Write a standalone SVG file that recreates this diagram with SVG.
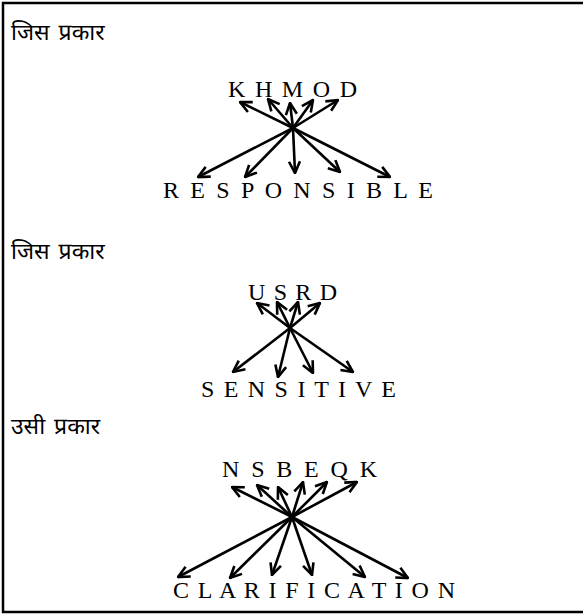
<svg xmlns="http://www.w3.org/2000/svg" width="583" height="615" viewBox="0 0 583 615">
<style>
.hd{font-family:"Noto Sans Devanagari","Noto Sans","Lohit Devanagari",sans-serif;font-size:23px;fill:#000;word-spacing:3px}
.lt{font-family:"Liberation Serif","Times New Roman",serif;font-size:24px;fill:#000}
.ar{stroke:#000;stroke-width:2.6;fill:none;marker-end:url(#ah)}
.bd{stroke:#000;stroke-width:2.5;fill:none}
</style>
<defs>
<marker id="ah" viewBox="0 0 14 14" refX="13" refY="7" markerWidth="14" markerHeight="14" markerUnits="userSpaceOnUse" orient="auto">
<path d="M1.5,1.5 L13,7 L1.5,12.5" fill="none" stroke="#000" stroke-width="2.6"/>
</marker>
</defs>
<rect width="583" height="615" fill="#fff"/>
<g id="border">
<path class="bd" d="M583,3 L3,3 L3,612 L583,612"/>
</g>
<g id="header1"><text class="hd" x="11" y="40">जिस प्रकार</text></g>
<g id="top1"><text class="lt" x="228" y="97" textLength="129" lengthAdjust="spacing">K H M O D</text></g>
<g id="bottom1"><text class="lt" x="163" y="198" textLength="270" lengthAdjust="spacing">R E S P O N S I B L E</text></g>
<g id="header2"><text class="hd" x="11" y="259">जिस प्रकार</text></g>
<g id="top2"><text class="lt" x="248" y="300" textLength="89" lengthAdjust="spacing">U S R D</text></g>
<g id="bottom2"><text class="lt" x="201" y="397" textLength="195" lengthAdjust="spacing">S E N S I T I V E</text></g>
<g id="header3"><text class="hd" x="11" y="434">उसी प्रकार</text></g>
<g id="top3"><text class="lt" x="222" y="477" textLength="155" lengthAdjust="spacing">N S B E Q K</text></g>
<g id="bottom3"><text class="lt" x="173" y="598" textLength="282" lengthAdjust="spacing">C L A R I F I C A T I O N</text></g>
<g id="connectors">
<line class="ar" x1="293" y1="128" x2="240" y2="102"/>
<line class="ar" x1="293" y1="128" x2="268" y2="99"/>
<line class="ar" x1="293" y1="128" x2="290" y2="103"/>
<line class="ar" x1="293" y1="128" x2="313" y2="100"/>
<line class="ar" x1="293" y1="128" x2="338" y2="100"/>
<line class="ar" x1="293" y1="128" x2="198" y2="177"/>
<line class="ar" x1="293" y1="128" x2="245" y2="177"/>
<line class="ar" x1="293" y1="128" x2="295" y2="173"/>
<line class="ar" x1="293" y1="128" x2="340" y2="172"/>
<line class="ar" x1="293" y1="128" x2="390" y2="177"/>
<line class="ar" x1="290" y1="328" x2="257" y2="303"/>
<line class="ar" x1="290" y1="328" x2="277" y2="302"/>
<line class="ar" x1="290" y1="328" x2="298" y2="302"/>
<line class="ar" x1="290" y1="328" x2="320" y2="303"/>
<line class="ar" x1="290" y1="328" x2="233" y2="372"/>
<line class="ar" x1="290" y1="328" x2="278" y2="377"/>
<line class="ar" x1="290" y1="328" x2="313" y2="373"/>
<line class="ar" x1="290" y1="328" x2="353" y2="372"/>
<line class="ar" x1="292" y1="517" x2="232" y2="487"/>
<line class="ar" x1="292" y1="517" x2="257" y2="485"/>
<line class="ar" x1="292" y1="517" x2="278" y2="487"/>
<line class="ar" x1="292" y1="517" x2="303" y2="482"/>
<line class="ar" x1="292" y1="517" x2="327" y2="482"/>
<line class="ar" x1="292" y1="517" x2="357" y2="482"/>
<line class="ar" x1="292" y1="517" x2="178" y2="577"/>
<line class="ar" x1="292" y1="517" x2="230" y2="578"/>
<line class="ar" x1="292" y1="517" x2="272" y2="575"/>
<line class="ar" x1="292" y1="517" x2="312" y2="575"/>
<line class="ar" x1="292" y1="517" x2="365" y2="577"/>
<line class="ar" x1="292" y1="517" x2="408" y2="578"/>
</g>
</svg>
